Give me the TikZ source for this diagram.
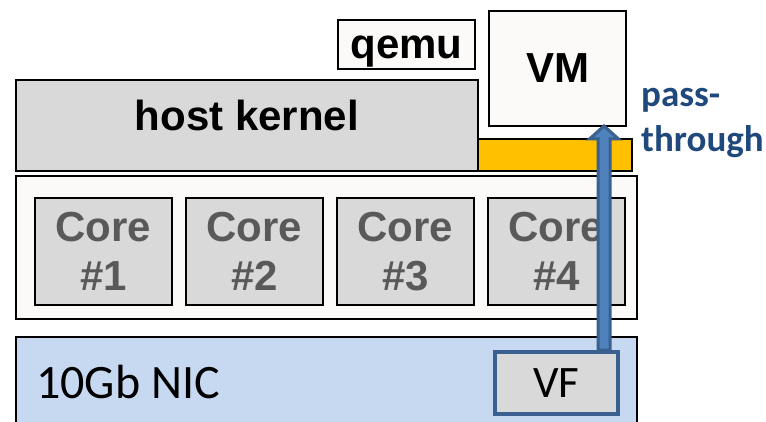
\documentclass[tikz,border=0pt]{standalone}
\usepackage{fontspec}
\setmainfont{Liberation Sans}
\newfontfamily\calib{Carlito}
\usetikzlibrary{calc}
\definecolor{panel}{HTML}{D9D9D9}
\definecolor{paper}{HTML}{FBFAF9}
\definecolor{nicblue}{HTML}{C6D9F1}
\definecolor{gold}{HTML}{FFC000}
\definecolor{arrowfill}{HTML}{4F81BD}
\definecolor{arrowline}{HTML}{3A6090}
\definecolor{navy}{HTML}{1F497D}
\definecolor{coretext}{HTML}{595959}
\begin{document}
\begin{tikzpicture}[x=1pt,y=-1pt,
  box/.style={draw=black, line width=2pt, inner sep=0pt, anchor=north west},
  heavy/.style={font=\bfseries\fontsize{42}{50}\selectfont},
  corebox/.style={box, fill=panel, minimum width=137pt, minimum height=107pt,
    align=center, text=coretext, font=\bfseries\fontsize{42}{49}\selectfont},
]
\useasboundingbox (0,0) rectangle (766,422);
\clip (0,0) rectangle (766,422);

% hardware layers
\node[box, fill=paper, minimum width=621pt, minimum height=143pt] (cpu) at (15,175) {};
\foreach \i in {1,...,4}
  \node[corebox] (core\i) at ({34+151*(\i-1)},197) {Core\\\#\i};
\node[box, fill=nicblue, minimum width=621pt, minimum height=110pt] (nic) at (15,336) {};
\node[anchor=base west, inner sep=0pt, font=\calib\fontsize{48}{56}\selectfont] (nictext) at (36,398) {10Gb NIC};

% software layers
\node[box, fill=gold, minimum width=154pt, minimum height=32pt] (iommu) at (477,138) {};
\node[box, fill=panel, minimum width=462pt, minimum height=91pt] (hk) at (15,79) {};
\node[heavy, anchor=base] (hktext) at ($(hk.north)+(0,52)$) {host kernel};
\node[box, fill=paper, minimum width=137pt, minimum height=49pt] (qemu) at (337,19) {};
\node[heavy, anchor=base] (qemutext) at ($(qemu.north)+(0,40)$) {qemu};
\node[box, fill=paper, minimum width=137pt, minimum height=115pt, heavy] (vm) at (488,10) {VM};

% pass-through arrow from the virtual function up to the VM
\coordinate (ax) at (604,0);
\coordinate (tip) at (vm.south -| ax);
\coordinate (foot) at (493,350 -| ax);
\filldraw[fill=arrowfill, draw=arrowline, line width=3pt]
  ($(foot)+(-6,0)$) -- ($(tip)+(-6,12)$) -- ($(tip)+(-14.5,12)$) -- ($(tip)+(0,-1)$)
  -- ($(tip)+(14.5,12)$) -- ($(tip)+(6,12)$) -- ($(foot)+(6,0)$) -- cycle;
\node[box, draw=arrowline, line width=4pt, fill=panel, minimum width=123pt, minimum height=62pt,
  font=\calib\fontsize{45}{54}\selectfont] (vf) at (493,350) {VF};

\node[anchor=base west, inner sep=0pt, align=left, text=navy, font=\calib\bfseries\fontsize{37}{45}\selectfont]
  (pt) at (641,152) {pass-\\through};
\end{tikzpicture}
\end{document}
